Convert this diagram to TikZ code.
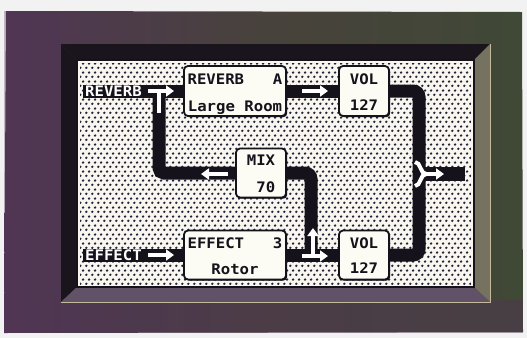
\documentclass[tikz,border=0pt]{standalone}
\usepackage{fontspec}
\newfontfamily\lcdfont{DejaVu Sans Mono}[FakeStretch=1.08]
\usetikzlibrary{patterns,arrows.meta,shadows}
\definecolor{framea}{RGB}{80,54,84}
\definecolor{frameb}{RGB}{72,66,60}
\definecolor{framec}{RGB}{64,72,54}
\definecolor{bevdark}{RGB}{26,20,28}
\definecolor{bevright}{RGB}{118,114,96}
\definecolor{bevbot}{RGB}{98,82,104}
\definecolor{bevlight}{RGB}{196,186,156}
\definecolor{screenc}{RGB}{248,246,238}
\definecolor{dotc}{RGB}{36,32,56}
\definecolor{ink}{RGB}{22,18,28}
\definecolor{boxc}{RGB}{252,251,244}
\pgfdeclarepatternformonly{lcddots}{\pgfqpoint{0pt}{0pt}}{\pgfqpoint{5.7pt}{8.8pt}}{\pgfqpoint{5.7pt}{8.8pt}}{%
  \pgfpathcircle{\pgfqpoint{1.4pt}{2.2pt}}{1.35pt}%
  \pgfpathcircle{\pgfqpoint{4.25pt}{6.6pt}}{1.35pt}%
  \pgfusepath{fill}}
\newcommand{\lcdtxt}{\lcdfont\bfseries\fontsize{14.5pt}{15pt}\selectfont}
\begin{document}
\begin{tikzpicture}[x=1pt,y=-1pt,
  lcdbox/.style={draw=ink,fill=boxc,line width=1.8pt,rounded corners=4pt,inner sep=0pt,
    drop shadow={shadow xshift=1.2pt,shadow yshift=-1.2pt,opacity=1,fill=ink}},
  lcdtext/.style={text=ink,font=\lcdtxt,inner sep=0pt,anchor=base},
  lcdlabel/.style={fill=ink,text=white,font=\lcdtxt,inner xsep=2pt,inner ysep=0pt,minimum height=13pt,anchor=west},
  wire/.style={draw=ink,line width=13pt},
  warrow/.style={draw=white,line width=4.5pt,-{Triangle[length=8pt,width=11pt]}},
  wstem/.style={draw=white,line width=4.5pt}]
\useasboundingbox (0,0) rectangle (527,338);
% photo background and dark frame
\fill[white!90!gray] (0,0) rectangle (527,338);
\shade[left color=framea,right color=framec,middle color=frameb] (6,11) -- (522,12) -- (523,332) -- (4,333) -- cycle;
\fill[framea,opacity=0.45] (4,300) rectangle (523,333);
\fill[framea,opacity=0.3] (4,11) rectangle (61,333);
% bevel
\fill[bevdark] (61,44) -- (490,44) -- (474,60) -- (77,60) -- cycle;
\fill[bevdark] (61,44) -- (77,60) -- (77,287) -- (61,302) -- cycle;
\fill[bevright] (490,44) -- (490,302) -- (474,287) -- (474,60) -- cycle;
\fill[bevbot] (61,302) -- (490,302) -- (474,287) -- (77,287) -- cycle;
\draw[bevlight,line width=1pt] (61,302) -- (490,302) -- (490,44);
% screen
\fill[screenc] (77,60) rectangle (474,287);
\fill[pattern=lcddots,pattern color=dotc] (80,63) rectangle (471,284);
\draw[ink,line width=1.2pt] (77,60) rectangle (474,287);
% boxes
\node[lcdbox,minimum width=102pt,minimum height=50pt] (rev) at (235,91) {};
\node[lcdbox,minimum width=50pt,minimum height=50pt] (vol1) at (364,91) {};
\node[lcdbox,minimum width=50pt,minimum height=49pt] (mix) at (261,173) {};
\node[lcdbox,minimum width=102pt,minimum height=49pt] (eff) at (235,255) {};
\node[lcdbox,minimum width=50pt,minimum height=49pt] (vol2) at (364,255) {};
% labels
\node[lcdlabel] (revlabel) at (83,91) {REVERB};
\node[lcdlabel] (efflabel) at (83,255) {EFFECT};
% junction coordinates
\coordinate (jrev) at (159,91);
\coordinate (jmix) at (311,255);
\coordinate (jout) at (419,174);
\coordinate (outend) at (465,174);
% wires
\draw[wire] (revlabel.east) -- (rev.west);
\draw[wire] (rev.east) -- (vol1.west);
\draw[wire,rounded corners=6pt] (vol1.east) -| (jout) |- (vol2.east);
\draw[draw=ink,line width=14pt] (jout) -- (outend);
\draw[wire,rounded corners=5pt] (jrev) |- (mix.west);
\draw[wire,rounded corners=6pt] (mix.east) -| (jmix);
\draw[wire] (efflabel.east) -- (eff.west);
\draw[wire] (eff.east) -- (vol2.west);
% white flow arrows
\coordinate (a1s) at (148,91);  \coordinate (a1e) at (174,91);
\coordinate (t1s) at (159,89);  \coordinate (t1e) at (159,113);
\coordinate (a2s) at (302,91);  \coordinate (a2e) at (328,91);
\coordinate (a3s) at (228,174); \coordinate (a3e) at (201,174);
\coordinate (a4s) at (148,255); \coordinate (a4e) at (174,255);
\coordinate (a5s) at (302,256); \coordinate (a5e) at (328,256);
\coordinate (u5s) at (313,258); \coordinate (u5e) at (313,228);
\draw[wstem] (t1s) -- (t1e);
\draw[warrow] (a1s) -- (a1e);
\draw[warrow] (a2s) -- (a2e);
\draw[warrow] (a3s) -- (a3e);
\draw[warrow] (a4s) -- (a4e);
\draw[warrow] (u5s) -- (u5e);
\draw[warrow] (a5s) -- (a5e);
% output Y arrow
\coordinate (y1) at (415,162);
\coordinate (y2) at (415,186);
\coordinate (ym) at (426,174);
\coordinate (ye) at (444,174);
\draw[wstem,line width=4pt] (y1) .. controls (421,162) and (420,174) .. (ym);
\draw[wstem,line width=4pt] (y2) .. controls (421,186) and (420,174) .. (ym);
\draw[warrow] (424,174) -- (ye);
% texts
\node[lcdtext] (revt1) at (235,84) {\makebox[94.8pt]{REVERB\hfill A}};
\node[lcdtext] (revt2) at (235,111) {Large Room};
\node[lcdtext] (vol1t1) at (364,84) {VOL};
\node[lcdtext] (vol1t2) at (364,110) {127};
\node[lcdtext] (mixt1) at (261,165) {MIX};
\node[lcdtext] (mixt2) at (261,192) {\makebox[28.4pt][r]{70}};
\node[lcdtext] (efft1) at (235,248) {\makebox[94.8pt]{EFFECT\hfill 3}};
\node[lcdtext] (efft2) at (235,274) {Rotor};
\node[lcdtext] (vol2t1) at (364,248) {VOL};
\node[lcdtext] (vol2t2) at (364,273) {127};
\end{tikzpicture}
\end{document}
